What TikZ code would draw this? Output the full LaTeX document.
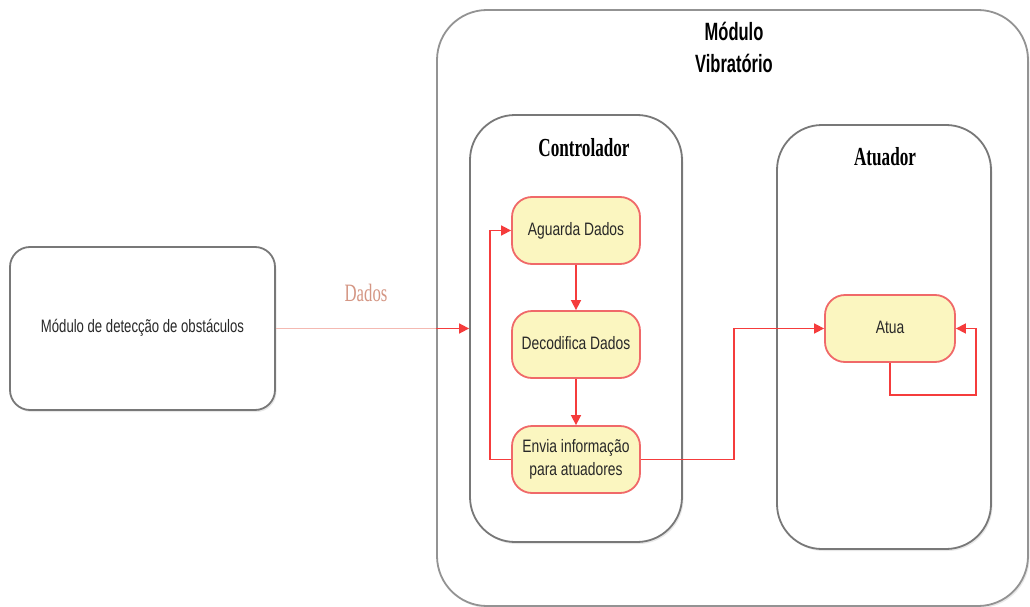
\documentclass[tikz,border=0pt]{standalone}
\usepackage{fontspec}
\setmainfont{Liberation Serif}
\setsansfont{Liberation Sans}
\usetikzlibrary{arrows.meta,shadows,calc}
\definecolor{boxfill}{RGB}{251,246,192}
\definecolor{boxline}{RGB}{240,105,105}
\definecolor{linkred}{RGB}{245,60,60}
\definecolor{palered}{RGB}{244,185,178}
\definecolor{framegray}{RGB}{120,120,120}
\definecolor{dadoscol}{RGB}{212,150,132}
\definecolor{txtgray}{RGB}{40,40,40}
\newcommand{\sqz}[2]{\scalebox{#1}[1]{\begin{tabular}{@{}c@{}}#2\end{tabular}}}
\tikzset{
  frame/.style={draw=framegray, line width=1.8pt, fill=white, rectangle, inner sep=0pt,
    drop shadow={opacity=0.18, shadow xshift=1.5pt, shadow yshift=-2pt}},
  actbox/.style={draw=boxline, line width=1.8pt, fill=boxfill, rectangle, rounded corners=20pt,
    minimum width=128pt, minimum height=67pt, inner sep=0pt, text=txtgray,
    font=\sffamily\fontsize{18}{23}\selectfont},
  link/.style={draw=linkred, line width=1.6pt, -{Triangle[length=10pt,width=10pt]}},
  titlesans/.style={font=\sffamily\bfseries\fontsize{25}{32}\selectfont, text=black, inner sep=0pt},
  titleserif/.style={font=\rmfamily\bfseries\fontsize{26}{30}\selectfont, text=black, inner sep=0pt},
}
\begin{document}
\begin{tikzpicture}[x=1pt,y=-1pt]
\useasboundingbox (0,0) rectangle (1030,607);
% containers
\node[frame, rounded corners=50pt, draw=framegray!80, minimum width=591pt, minimum height=596pt] (outer) at (732.5,308) {};
\node[frame, rounded corners=45pt, minimum width=212pt, minimum height=427pt] (ctrl) at (576,328.5) {};
\node[frame, rounded corners=45pt, minimum width=214pt, minimum height=424pt] (atuador) at (884,337) {};
\node[frame, rounded corners=20pt, minimum width=265pt, minimum height=163pt, text=txtgray,
  font=\sffamily\fontsize{18}{22}\selectfont] (det) at (142.5,328.5) {\sqz{0.73}{Módulo de detecção de obstáculos}};
% titles
\node[titlesans] (ttl) at (734,50) {\sqz{0.66}{Módulo\\Vibratório}};
\node[titleserif, anchor=base] (ttlc) at (584,157) {\sqz{0.66}{Controlador}};
\node[titleserif, anchor=base] (ttla) at (885,166) {\sqz{0.66}{Atuador}};
% activities
\node[actbox] (aguarda) at (576,230.5) {\sqz{0.77}{Aguarda Dados}};
\node[actbox] (decod) at (576,344.5) {\sqz{0.77}{Decodifica Dados}};
\node[actbox] (envia) at (576,459.5) {\sqz{0.77}{Envia informação\\para atuadores}};
\node[actbox, minimum width=130pt] (atua) at (890,328.5) {\sqz{0.77}{Atua}};
% Dados connector
\coordinate (cross) at (outer.west |- det.east);
\draw[draw=palered, line width=1.6pt] (det.east) -- (cross);
\draw[link] (cross) -- (ctrl.west |- det.east);
\node[anchor=base, text=dadoscol, font=\rmfamily\fontsize{25}{30}\selectfont, inner sep=0pt] (dadoslbl) at (366,302) {\sqz{0.67}{Dados}};
% flow
\draw[link] (aguarda.south) -- (decod.north);
\draw[link] (decod.south) -- (envia.north);
\draw[link] (envia.west) -- ++(-21,0) |- (aguarda.west);
\draw[link] (envia.east) -- ++(93,0) |- (atua.west);
\draw[link] (atua.south) -- ++(0,32) -| ($(atua.east)+(20,0)$) -- (atua.east);
\end{tikzpicture}
\end{document}
